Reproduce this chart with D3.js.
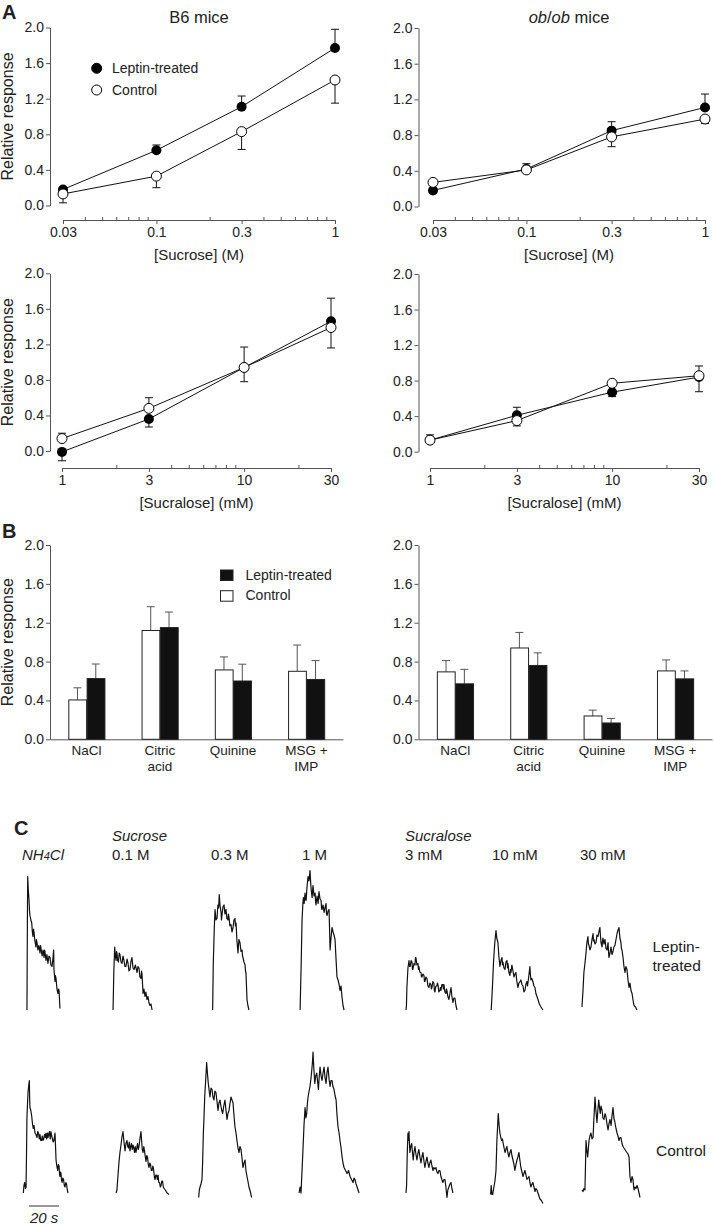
<!DOCTYPE html>
<html><head><meta charset="utf-8">
<script src="https://cdn.jsdelivr.net/npm/d3@7"></script>
<style>
body{margin:0;background:#fff}
svg{display:block}
text{font-family:"Liberation Sans",Arial,Helvetica,sans-serif;fill:#222}
</style>
</head><body><svg id="c" width="714" height="1226"></svg>
<script>
// ---------------- DATA ----------------
const sucroseConc = [0.03, 0.1, 0.3, 1];
const sucroseTickLabels = ["0.03", "0.1", "0.3", "1"];
const sucroseMinorTicks = [0.04,0.05,0.06,0.07,0.08,0.09,0.2,0.4,0.5,0.6,0.7,0.8,0.9];
const sucraloseConc = [1, 3, 10, 30];
const sucraloseTickLabels = ["1", "3", "10", "30"];
const sucraloseMinorTicks = [2,4,5,6,7,8,9,20];
const yTickValues = [0, 0.4, 0.8, 1.2, 1.6, 2.0];

// Panel A – relative responses (mean), one-sided SE
const b6SucroseLeptin = [0.18, 0.62, 1.11, 1.77];
const b6SucroseLeptinErrUp = [0.02, 0.06, 0.12, 0.21];
const b6SucroseLeptinErrDown = [0, 0, 0, 0];
const b6SucroseControl = [0.13, 0.33, 0.83, 1.41];
const b6SucroseControlErrUp = [0, 0, 0, 0];
const b6SucroseControlErrDown = [0.10, 0.13, 0.20, 0.26];

const obSucroseLeptin = [0.18, 0.42, 0.85, 1.11];
const obSucroseLeptinErrUp = [0, 0.06, 0.10, 0.15];
const obSucroseLeptinErrDown = [0, 0, 0, 0];
const obSucroseControl = [0.27, 0.41, 0.78, 0.98];
const obSucroseControlErrUp = [0, 0, 0, 0];
const obSucroseControlErrDown = [0, 0, 0.11, 0.05];

const b6SucraloseLeptin = [-0.01, 0.36, 0.94, 1.46];
const b6SucraloseLeptinErrUp = [0, 0, 0, 0.26];
const b6SucraloseLeptinErrDown = [0.10, 0.09, 0.16, 0];
const b6SucraloseControl = [0.14, 0.48, 0.94, 1.39];
const b6SucraloseControlErrUp = [0.06, 0.12, 0.23, 0];
const b6SucraloseControlErrDown = [0, 0, 0, 0.23];

const obSucraloseLeptin = [0.13, 0.41, 0.67, 0.84];
const obSucraloseLeptinErrUp = [0, 0.09, 0, 0];
const obSucraloseLeptinErrDown = [0, 0, 0.05, 0.165];
const obSucraloseControl = [0.13, 0.35, 0.77, 0.855];
const obSucraloseControlErrUp = [0.06, 0, 0, 0.11];
const obSucraloseControlErrDown = [0, 0.06, 0, 0];

// Panel B – bars
const tastants = ["NaCl", "Citric acid", "Quinine", "MSG + IMP"];
const tastantLabelLines = [["NaCl"], ["Citric", "acid"], ["Quinine"], ["MSG +", "IMP"]];
const barGroups = ["Control", "Leptin-treated"];
const b6BarControl = [0.405, 1.12, 0.714, 0.70];
const b6BarControlErr = [0.125, 0.245, 0.134, 0.27];
const b6BarLeptin = [0.625, 1.15, 0.60, 0.615];
const b6BarLeptinErr = [0.15, 0.16, 0.173, 0.195];
const obBarControl = [0.694, 0.94, 0.24, 0.704];
const obBarControlErr = [0.116, 0.16, 0.06, 0.113];
const obBarLeptin = [0.571, 0.76, 0.168, 0.622];
const obBarLeptinErr = [0.149, 0.13, 0.047, 0.082];

// Panel C – whole-nerve traces: [time (s) from stimulus onset, amplitude (a.u.)]
const stimuli = ["NH4Cl", "0.1 M", "0.3 M", "1 M", "3 mM", "10 mM", "30 mM"];
const stimulusOnsets = [0, 60, 126, 186.7, 255.3, 313.3, 372];
const traceGroups = ["Leptin-treated", "Control"];

const lepNH4Cl = [[3.3,0],[3.6,60],[3.8,89],[4.2,80],[4.7,73],[5.0,66],[5.3,63],[5.9,60],[6.5,58],[6.9,52],[7.3,49],[7.7,54],[8,52],[8.6,46],[9.3,42],[9.6,47],[10,45],[10.6,40],[11.3,43],[12,38],[12.4,43],[12.7,41],[13.4,36],[14,40],[14.7,35],[15,40],[15.3,39],[16,33],[16.6,37],[17.3,31],[18,36],[18.7,35],[19.3,30],[20,29],[20.6,34],[21.1,40],[21.3,27],[22,19],[22.3,23],[22.7,21],[23.3,14],[24,11],[24.4,14],[24.7,13],[25.3,1]];
const lepSuc01 = [[0.7,0],[1.2,25],[1.8,42],[2.2,36],[2.7,33],[3,39],[3.3,38],[3.8,33],[4.3,32],[4.8,38],[5.3,37],[6,32],[6.7,31],[7.3,36],[8,33],[8.6,29],[9.3,29],[10,34],[10.7,31],[11.3,26],[12,27],[12.6,32],[13.3,35],[14,28],[14.7,27],[15.6,30],[16.7,25],[17.3,29],[18,28],[18.6,22],[19.3,21],[19.7,26],[20,24],[20.7,11],[21.3,14],[22,9],[22.6,12],[23.3,7],[24,9],[24.6,5],[25.3,3],[26,4],[26.7,0]];
const lepSuc03 = [[1.1,0],[1.5,30],[2.2,55],[2.7,67],[3.3,60],[4,61],[4.6,70],[5.1,68],[5.5,77],[6,70],[6.7,65],[7,60],[7.3,63],[8,69],[8.7,70],[9.3,64],[10,67],[10.6,61],[11.3,60],[11.6,64],[12,62],[12.6,56],[13.3,57],[14,52],[14.7,55],[15.3,60],[16,61],[16.3,56],[16.7,58],[17.3,46],[18,38],[18.6,47],[19.3,45],[20,39],[20.7,40],[21,36],[21.3,35],[22,32],[22.7,30],[23,26],[23.3,25],[23.7,15],[24,7],[24.6,3],[25.3,0]];
const lepSuc1 = [[-1.3,0],[-0.6,30],[0,60],[0.5,70],[0.9,75],[1.4,71],[2,78],[2.3,74],[2.7,73],[3.3,82],[4,89],[4.6,86],[5.3,93],[5.8,84],[6.2,79],[6.7,75],[7.3,83],[8,76],[8.7,78],[9,72],[9.3,70],[10,76],[10.7,71],[11.3,79],[12,74],[12.7,73],[13,68],[13.3,67],[14,70],[14.7,65],[15.3,68],[16,71],[16.3,64],[16.7,63],[17.3,66],[18,67],[18.7,40],[19.3,48],[20,55],[20.7,52],[21.3,50],[22,47],[22.6,35],[23.3,22],[24,20],[24.7,17],[25.3,13],[26,16],[26.6,9],[27.3,3],[28,0]];
const lepScl3 = [[0.7,0],[1,3],[1.3,15],[2,28],[2.7,33],[3.1,29],[3.5,29],[4.1,33],[4.7,32],[5,27],[5.3,27],[6,31],[6.7,30],[7,35],[7.3,35],[8,30],[8.7,31],[9,27],[9.3,29],[10,25],[10.7,25],[11,22],[11.3,22],[12,24],[12.7,23],[13,19],[13.3,19],[14,22],[14.7,21],[15.3,16],[16,15],[16.6,18],[17.3,17],[17.6,14],[18,15],[18.6,19],[19.3,18],[19.6,13],[20,12],[20.6,16],[21.3,16],[21.6,18],[22,17],[22.6,12],[23.3,13],[23.6,15],[24,13],[24.6,17],[25.3,17],[25.6,14],[26,17],[26.6,12],[27.3,11],[27.6,14],[28,13],[28.6,9],[29.3,7],[30,11],[30.7,15],[31.3,9],[32,5],[32.6,8],[33.3,8],[34,3],[34.7,0]];
const lepScl10 = [[-0.5,0],[0.3,15],[1.1,33],[1.9,45],[2.7,53],[3.2,48],[4,45],[4.6,36],[5.3,29],[6,33],[6.7,35],[7,30],[7.3,32],[8,28],[8.7,27],[9.3,32],[10,33],[10.4,28],[10.7,31],[11.3,25],[12,23],[12.4,27],[12.7,25],[13.3,30],[14,26],[14.7,22],[15.3,24],[16,25],[16.6,19],[17.3,15],[18,18],[18.7,19],[19.3,20],[20,17],[20.7,16],[21.3,12],[22,13],[22.6,17],[23.3,19],[23.7,16],[24,18],[24.6,23],[25.3,29],[25.6,24],[26,20],[26.6,21],[27.3,19],[28,16],[28.7,15],[29.3,11],[30,9],[30.7,7],[31.6,4],[32.7,2],[34,0]];
const lepScl30 = [[1.3,2],[2,13],[2.6,25],[3.3,31],[4,38],[4.6,45],[5.3,49],[5.6,44],[6,43],[6.6,40],[7.3,42],[8,47],[8.7,51],[9,46],[9.3,47],[10,44],[10.7,45],[11.3,50],[12,49],[12.6,52],[13.3,55],[13.6,50],[14,45],[14.7,42],[15,46],[15.3,48],[16,44],[16.7,47],[17.3,41],[18,40],[18.7,45],[19,39],[19.3,35],[20,38],[20.7,42],[21.3,37],[22,39],[22.6,42],[23.3,43],[24,47],[24.7,51],[25.3,53],[26,55],[26.6,48],[27.3,45],[27.6,41],[28,40],[28.7,35],[29.3,29],[30,25],[30.6,29],[31.3,27],[32,20],[32.7,15],[33.3,18],[34,13],[34.7,11],[35.3,7],[36,3],[37,2],[38,0]];

const conNH4Cl = [[0.9,0],[1.3,5],[1.8,7],[2.3,3],[2.7,4],[3,25],[3.3,51],[3.7,60],[4,67],[4.5,72],[4.9,75],[5.1,63],[5.3,57],[5.9,55],[6.5,51],[7,46],[7.5,43],[8,45],[8.7,40],[9.3,39],[10,37],[10.5,41],[11,40],[11.5,36],[12,39],[12.5,35],[13,35],[13.5,38],[14,35],[14.5,36],[15,39],[15.5,37],[16,40],[16.4,36],[16.7,37],[17,40],[17.3,37],[17.8,39],[18.3,41],[18.8,36],[19.3,41],[19.8,38],[20.3,36],[20.8,34],[21.3,35],[21.7,38],[22,40],[22.4,30],[22.7,22],[23.2,18],[23.8,15],[24.2,19],[24.7,18],[25,13],[25.3,11],[25.7,14],[26,13],[26.3,9],[26.7,7],[27.2,10],[27.7,9],[28.2,5],[28.7,4],[29.2,7],[29.7,6],[30.2,2],[30.7,0]];
const conSuc01 = [[2.7,0],[3.3,2],[4,12],[4.7,21],[5.3,27],[6,32],[6.6,37],[7.3,41],[8,34],[8.7,28],[9.3,33],[10,35],[10.5,31],[11,30],[11.5,34],[12,28],[12.5,31],[13,33],[13.5,29],[14,32],[14.5,30],[15,27],[15.5,31],[16,27],[16.5,30],[17,33],[17.5,29],[18,31],[18.6,36],[19.3,41],[19.8,34],[20.2,29],[20.7,27],[21.2,31],[21.7,28],[22.2,24],[22.7,21],[23.2,25],[23.7,24],[24.2,19],[24.7,17],[25.2,20],[25.7,19],[26.2,15],[26.7,15],[27.2,18],[27.7,16],[28.2,11],[28.7,9],[29.2,12],[29.7,12],[30.2,9],[30.7,12],[31.2,7],[31.7,7],[32.2,4],[32.7,5],[33.2,8],[33.7,8],[34.2,4],[34.7,3],[35.5,2],[36.7,0],[38,-1]];
const conSuc03 = [[-8.2,-3],[-7.8,2],[-7.3,4],[-6.7,6],[-6,9],[-5.6,20],[-5.1,40],[-4.6,52],[-4.2,64],[-3.5,76],[-2.9,87],[-2.4,80],[-1.8,73],[-1.2,68],[-0.7,64],[0,70],[0.7,69],[1.3,64],[2,62],[2.6,68],[3.3,67],[4,61],[4.7,55],[5.3,60],[6,62],[6.6,58],[7.2,55],[7.8,53],[8.5,58],[9.3,62],[10,55],[10.7,49],[11.3,53],[12,55],[12.7,60],[13.3,64],[14,62],[14.7,60],[15.3,52],[16,44],[16.7,40],[17.3,35],[18,30],[18.7,27],[19.3,31],[20,29],[20.7,23],[21.3,17],[22,20],[22.7,22],[23.3,15],[24,11],[24.6,8],[25.3,4],[26.2,1],[27.1,-3]];
const conSuc1 = [[-2,0],[-1.3,4],[-0.7,0],[0,15],[0.7,31],[1.3,45],[2,57],[2.6,50],[3.1,53],[3.6,60],[4,64],[4.7,68],[5.3,71],[5.9,76],[6.5,82],[7,88],[7.3,94],[7.8,84],[8.5,73],[9.1,78],[9.8,80],[10.4,74],[10.9,69],[11.4,77],[12,84],[12.7,78],[13.3,75],[14,80],[14.7,84],[15.3,77],[16,73],[16.6,80],[17.3,84],[18,76],[18.7,71],[19.3,75],[20,75],[20.6,71],[21.3,69],[22,65],[22.7,62],[23.3,52],[24,44],[24.7,40],[25.3,35],[26,30],[26.7,24],[27.3,20],[28,17],[29,15],[30,13],[31,15],[32,11],[33,9],[34,7],[34.7,10],[35.3,9],[36,6],[36.7,4],[38,0]];
const conScl3 = [[0.7,0],[1.1,5],[1.5,25],[2,40],[2.4,35],[2.7,41],[3,33],[3.3,27],[3.9,31],[4.5,33],[5,27],[5.5,22],[6,27],[6.7,31],[7.3,26],[8,22],[8.6,26],[9.3,29],[10,24],[10.7,20],[11.3,24],[12,27],[12.7,21],[13.3,17],[14,21],[14.7,24],[15.3,20],[16,17],[16.6,20],[17.3,22],[18,18],[18.7,15],[19.3,17],[20,16],[20.7,17],[21.3,14],[22,13],[22.6,15],[23.3,15],[24,11],[24.6,9],[25.3,7],[26,9],[26.7,9],[27.3,4],[28,-3],[28.6,2],[29.3,4],[30,6],[30.7,7],[31.3,3],[32,0]];
const conScl10 = [[-0.9,-1],[-0.5,5],[0,-1],[0.5,-1],[1.3,4],[2,8],[2.7,15],[3.3,35],[3.8,45],[4.2,53],[4.7,46],[5.3,40],[5.9,37],[6.5,35],[7,36],[7.5,33],[8.1,30],[8.7,27],[9.3,29],[10,31],[10.6,27],[11.3,24],[12,27],[12.7,29],[13.3,25],[14,22],[14.7,19],[15.3,15],[16,19],[16.7,22],[17.3,24],[18,27],[18.6,22],[19.3,17],[20,14],[20.7,11],[21.3,13],[22,15],[22.7,12],[23.3,9],[24,10],[24.7,11],[25.3,7],[26,4],[26.7,6],[27.3,7],[28,4],[28.7,1],[29.3,3],[30,2],[31,-1],[32,-4],[33,-5],[34,-7]];
const conScl30 = [[1.3,2],[2,1],[2.6,3],[3.3,2],[3.7,20],[4,35],[4.6,28],[5.1,24],[5.6,30],[6,35],[6.6,38],[7.3,40],[8,36],[8.7,37],[9.3,50],[10,64],[10.6,55],[11.3,47],[11.9,55],[12.5,62],[13,57],[13.5,53],[14,58],[14.7,55],[15.3,50],[16,49],[16.7,53],[17.3,51],[18,46],[18.7,42],[19.3,46],[20,49],[20.7,45],[21.3,51],[22,57],[22.6,50],[23.3,47],[24,43],[24.7,40],[25.3,38],[26,35],[26.7,37],[27.3,37],[28,33],[28.7,31],[29.3,30],[30,29],[30.6,28],[31.3,27],[32,26],[32.7,24],[33.3,11],[34,7],[34.7,11],[35.3,9],[36,2],[36.7,4],[37.3,3],[38,5],[38.7,3],[40,-3]];

const leptinTraces = [lepNH4Cl, lepSuc01, lepSuc03, lepSuc1, lepScl3, lepScl10, lepScl30];
const controlTraces = [conNH4Cl, conSuc01, conSuc03, conSuc1, conScl3, conScl10, conScl30];
const scaleBarSeconds = 20;

// ---------------- DRAWING ----------------
const svg = d3.select("#c");
const AX = "#555", TXT = "#2a2a2a";

function styleAxis(sel, size) {
  sel.attr("font-family", null).attr("font-size", null);
  sel.selectAll("path.domain").attr("stroke", AX).attr("stroke-width", 1);
  sel.selectAll(".tick line").attr("stroke", AX).attr("stroke-width", 1);
  sel.selectAll(".tick text").attr("fill", TXT).style("font-size", size + "px");
}

function series(conc, v, up, dn) {
  return conc.map((c, i) => ({c, v: v[i], up: up[i], dn: dn[i]}));
}

function linePanel(p) {
  const g = svg.append("g");
  const x = d3.scaleLog().domain(d3.extent(p.conc)).range(p.xr);
  const y = d3.scaleLinear().domain([0, 2]).range(p.yr);

  const ya = g.append("g").attr("transform", `translate(${p.axisX},0)`)
    .call(d3.axisLeft(y).tickValues(yTickValues).tickFormat(d3.format(".1f")).tickSize(4).tickSizeOuter(0).tickPadding(2));
  styleAxis(ya, 14);

  const xa = g.append("g").attr("transform", `translate(0,${p.axisY})`)
    .call(d3.axisBottom(x).tickValues(p.conc).tickFormat((d, i) => p.labels[i]).tickSize(4).tickSizeOuter(0).tickPadding(3));
  styleAxis(xa, 14);
  g.append("g").selectAll("line").data(p.minor).join("line")
    .attr("x1", d => x(d)).attr("x2", d => x(d))
    .attr("y1", p.axisY).attr("y2", p.axisY - 3).attr("stroke", AX);

  const line = d3.line().x(d => x(d.c)).y(d => y(d.v));
  const all = [p.lep, p.con];
  all.forEach(s => g.append("path").attr("d", line(s)).attr("fill", "none").attr("stroke", "#111").attr("stroke-width", 1));

  // error bars
  const cap = 4;
  all.forEach(s => s.forEach(d => {
    [[d.up, 1], [d.dn, -1]].forEach(([e, sgn]) => {
      if (!e) return;
      const y0 = y(d.v), y1 = y(d.v + sgn * e), cx = x(d.c);
      g.append("line").attr("x1", cx).attr("x2", cx).attr("y1", y0).attr("y2", y1).attr("stroke", "#111");
      g.append("line").attr("x1", cx - cap).attr("x2", cx + cap).attr("y1", y1).attr("y2", y1).attr("stroke", "#111");
    });
  }));

  g.append("g").selectAll("circle").data(p.lep).join("circle")
    .attr("cx", d => x(d.c)).attr("cy", d => y(d.v)).attr("r", 5).attr("fill", "#000");
  g.append("g").selectAll("circle").data(p.con).join("circle")
    .attr("cx", d => x(d.c)).attr("cy", d => y(d.v)).attr("r", 5).attr("fill", "#fff").attr("stroke", "#000").attr("stroke-width", 1);

  const midX = (p.xr[0] + p.xr[1]) / 2;
  g.append("text").attr("x", midX).attr("y", p.axisY + 40).attr("text-anchor", "middle")
    .style("font-size", "15px").text(p.xTitle);

  if (p.title) {
    const t = g.append("text").attr("x", midX).attr("y", p.yr[1] - 5).attr("text-anchor", "middle").style("font-size", "16.5px");
    p.title.forEach(([s, it]) => t.append("tspan").attr("font-style", it ? "italic" : null).text(s));
  }
  if (p.yTitle) {
    g.append("text").attr("transform", `translate(13,${(p.yr[0] + p.yr[1]) / 2}) rotate(-90)`)
      .attr("text-anchor", "middle").style("font-size", "16px").text("Relative response");
  }
  if (p.legend) {
    const lg = g.append("g");
    const items = [["Leptin-treated", "#000"], ["Control", "#fff"]];
    items.forEach(([lab, fill], i) => {
      lg.append("circle").attr("cx", 96.7).attr("cy", 68.3 + i * 21.7).attr("r", 5).attr("fill", fill).attr("stroke", "#000");
      lg.append("text").attr("x", 112).attr("y", 73 + i * 21.7).style("font-size", "14px").text(lab);
    });
  }
}

linePanel({axisX: 50, xr: [63, 335], yr: [205.5, 27.5], axisY: 220, conc: sucroseConc, labels: sucroseTickLabels, minor: sucroseMinorTicks,
  lep: series(sucroseConc, b6SucroseLeptin, b6SucroseLeptinErrUp, b6SucroseLeptinErrDown),
  con: series(sucroseConc, b6SucroseControl, b6SucroseControlErrUp, b6SucroseControlErrDown),
  xTitle: "[Sucrose] (M)", title: [["B6 mice", false]], yTitle: true, legend: true});
linePanel({axisX: 418.5, xr: [433, 705], yr: [206.5, 28], axisY: 220, conc: sucroseConc, labels: sucroseTickLabels, minor: sucroseMinorTicks,
  lep: series(sucroseConc, obSucroseLeptin, obSucroseLeptinErrUp, obSucroseLeptinErrDown),
  con: series(sucroseConc, obSucroseControl, obSucroseControlErrUp, obSucroseControlErrDown),
  xTitle: "[Sucrose] (M)", title: [["ob", true], ["/", false], ["ob", true], [" mice", false]]});
linePanel({axisX: 50, xr: [62, 331], yr: [451, 273.3], axisY: 468, conc: sucraloseConc, labels: sucraloseTickLabels, minor: sucraloseMinorTicks,
  lep: series(sucraloseConc, b6SucraloseLeptin, b6SucraloseLeptinErrUp, b6SucraloseLeptinErrDown),
  con: series(sucraloseConc, b6SucraloseControl, b6SucraloseControlErrUp, b6SucraloseControlErrDown),
  xTitle: "[Sucralose] (mM)", yTitle: true});
linePanel({axisX: 418.5, xr: [430, 699], yr: [451.7, 274], axisY: 468, conc: sucraloseConc, labels: sucraloseTickLabels, minor: sucraloseMinorTicks,
  lep: series(sucraloseConc, obSucraloseLeptin, obSucraloseLeptinErrUp, obSucraloseLeptinErrDown),
  con: series(sucraloseConc, obSucraloseControl, obSucraloseControlErrUp, obSucraloseControlErrDown),
  xTitle: "[Sucralose] (mM)"});

// ---- bars ----
function barPanel(p) {
  const g = svg.append("g");
  const x0 = d3.scaleBand().domain(tastants).range(p.xr).paddingInner(0.5).paddingOuter(0.25);
  const x1 = d3.scaleBand().domain(barGroups).range([0, x0.bandwidth()]);
  const y = d3.scaleLinear().domain([0, 2]).range([739.3, 545]);

  const ya = g.append("g").attr("transform", `translate(${p.xr[0]},0)`)
    .call(d3.axisLeft(y).tickValues(yTickValues).tickFormat(d3.format(".1f")).tickSize(4).tickSizeOuter(0).tickPadding(2));
  styleAxis(ya, 14);
  const xa = g.append("g").attr("transform", `translate(0,${y(0)})`)
    .call(d3.axisBottom(x0).tickSize(0).tickSizeOuter(0).tickFormat(""));
  styleAxis(xa, 14);

  const rows = tastants.map((t, i) => [
    {t, grp: "Control", v: p.con[i], e: p.conErr[i]},
    {t, grp: "Leptin-treated", v: p.lep[i], e: p.lepErr[i]}
  ]).flat();

  rows.forEach(d => {
    const cx = x0(d.t) + x1(d.grp) + x1.bandwidth() / 2;
    g.append("line").attr("x1", cx).attr("x2", cx).attr("y1", y(d.v)).attr("y2", y(d.v + d.e)).attr("stroke", "#555");
    g.append("line").attr("x1", cx - 4).attr("x2", cx + 4).attr("y1", y(d.v + d.e)).attr("y2", y(d.v + d.e)).attr("stroke", "#555");
  });
  g.append("g").selectAll("rect").data(rows).join("rect")
    .attr("x", d => x0(d.t) + x1(d.grp) + 0.5)
    .attr("y", d => y(d.v))
    .attr("width", x1.bandwidth() - 0.5)
    .attr("height", d => y(0) - y(d.v))
    .attr("fill", d => d.grp === "Control" ? "#fff" : "#111")
    .attr("stroke", "#222").attr("stroke-width", 1);

  tastants.forEach((t, i) => {
    const tx = g.append("text").attr("x", x0(t) + x0.bandwidth() / 2).attr("y", 755).attr("text-anchor", "middle").style("font-size", "13.5px");
    tastantLabelLines[i].forEach((ln, j) => tx.append("tspan").attr("x", x0(t) + x0.bandwidth() / 2).attr("dy", j ? 15.5 : 0).text(ln));
  });

  if (p.yTitle) {
    g.append("text").attr("transform", `translate(13,${(y(0) + y(2)) / 2}) rotate(-90)`)
      .attr("text-anchor", "middle").style("font-size", "16px").text("Relative response");
  }
  if (p.legend) {
    [["Leptin-treated", "#111"], ["Control", "#fff"]].forEach(([lab, fill], i) => {
      g.append("rect").attr("x", 220.5).attr("y", 570 + i * 20.7).attr("width", 12.5).attr("height", 10.5)
        .attr("fill", fill).attr("stroke", "#222");
      g.append("text").attr("x", 245.5).attr("y", 579.5 + i * 20.7).style("font-size", "14px").text(lab);
    });
  }
}
barPanel({xr: [50, 343], con: b6BarControl, conErr: b6BarControlErr, lep: b6BarLeptin, lepErr: b6BarLeptinErr, yTitle: true, legend: true});
barPanel({xr: [418.5, 712], con: obBarControl, conErr: obBarControlErr, lep: obBarLeptin, lepErr: obBarLeptinErr});

// ---- traces ----
const tScale = d3.scaleLinear().domain([0, 20]).range([22, 52]);
const baseScale = d3.scalePoint().domain(traceGroups).range([1010, 1193]);
const ampScale = d3.scaleLinear().domain([0, 100]).range([0, 150]);
const gc = svg.append("g");
[[traceGroups[0], leptinTraces], [traceGroups[1], controlTraces]].forEach(([grp, traces]) => {
  const base = baseScale(grp);
  traces.forEach((tr, i) => {
    const ln = d3.line().x(d => tScale(stimulusOnsets[i] + d[0])).y(d => base - ampScale(d[1]));
    gc.append("path").attr("d", ln(tr)).attr("fill", "none").attr("stroke", "#111")
      .attr("stroke-width", 1.2).attr("stroke-linejoin", "round");
  });
});
// stimulus labels
stimuli.forEach((s, i) => {
  const t = gc.append("text").attr("x", tScale(stimulusOnsets[i])).attr("y", 860).style("font-size", "15px");
  if (s === "NH4Cl") {
    t.attr("font-style", "italic");
    t.append("tspan").text("NH");
    t.append("tspan").style("font-size", "11px").text("4");
    t.append("tspan").text("Cl");
  } else t.text(s);
});
gc.append("text").attr("x", tScale(stimulusOnsets[1])).attr("y", 841).attr("font-style", "italic").style("font-size", "15px").text("Sucrose");
gc.append("text").attr("x", tScale(stimulusOnsets[4])).attr("y", 841).attr("font-style", "italic").style("font-size", "15px").text("Sucralose");
// group labels
gc.append("text").attr("x", 652.5).attr("y", baseScale(traceGroups[0]) - 58).style("font-size", "15.5px")
  .call(t => { t.append("tspan").attr("x", 652.5).text("Leptin-"); t.append("tspan").attr("x", 652.5).attr("dy", 18.5).text("treated"); });
gc.append("text").attr("x", 656).attr("y", baseScale(traceGroups[1]) - 37).style("font-size", "15.5px").text("Control");
// scale bar
const sbLen = tScale(scaleBarSeconds) - tScale(0);
gc.append("line").attr("x1", 29).attr("x2", 29 + sbLen).attr("y1", 1206).attr("y2", 1206).attr("stroke", "#333").attr("stroke-width", 1);
gc.append("text").attr("x", 30).attr("y", 1223).attr("font-style", "italic").style("font-size", "15px").text(scaleBarSeconds + " s");

// panel letters
[["A", 2, 18.5], ["B", 2, 538], ["C", 14, 835]].forEach(([l, x, y]) =>
  svg.append("text").attr("x", x).attr("y", y).attr("font-weight", "bold").style("font-size", "20px").text(l));
</script>
</body></html>
